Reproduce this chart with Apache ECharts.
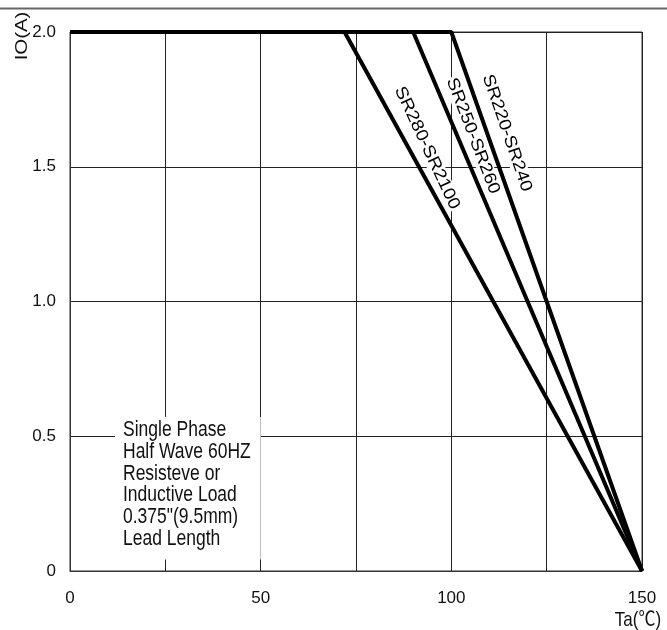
<!DOCTYPE html>
<html><head><meta charset="utf-8">
<script src="https://cdn.jsdelivr.net/npm/echarts@6/dist/echarts.min.js"></script>
<style>html,body{margin:0;padding:0;background:#fff}#c{width:667px;height:630px}</style>
</head><body><div id="c"></div>
<script>
// ---- data ----
const seriesNames = ['SR220-SR240', 'SR250-SR260', 'SR280-SR2100'];
const sr220_sr240 = [[0, 2.0], [100, 2.0], [150, 0]];
const sr250_sr260 = [[90, 2.0], [150, 0]];
const sr280_sr2100 = [[72, 2.0], [150, 0]];
const xTickLabels = { 0: '0', 50: '50', 100: '100', 150: '150' };
const yTickLabels = { 0: '0', 0.5: '0.5', 1: '1.0', 1.5: '1.5', 2: '2.0' };
const xAxisTitle = 'Ta(℃)';
const yAxisTitle = 'IO(A)';
const noteLines = ['Single Phase', 'Half Wave 60HZ', 'Resisteve or', 'Inductive Load', '0.375"(9.5mm)', 'Lead Length'];

// ---- chart ----
const FONT = '"Liberation Sans", Arial, "Noto Sans CJK SC", sans-serif';
const chart = echarts.init(document.getElementById('c'), null, { renderer: 'canvas' });
const lineStyle = { color: '#000', width: 4 };
const mk = (name, data) => ({
  name, type: 'line', data, showSymbol: false, symbol: 'none',
  lineStyle, z: 3, animation: false, silent: true
});
const labelStyle = (text, x, y, deg) => ({
  type: 'text', x, y, rotation: -deg * Math.PI / 180, scaleX: 1.12, z: 1,
  style: { text, font: '17px ' + FONT, fill: '#000', align: 'center', verticalAlign: 'middle',
           backgroundColor: '#fff', padding: [0, 1] }
});
chart.setOption({
  animation: false,
  backgroundColor: '#fff',
  grid: { left: 70, right: 25, top: 32, bottom: 59, show: true, borderColor: '#333', borderWidth: 1 },
  xAxis: {
    type: 'value', min: 0, max: 150, interval: 25,
    axisLine: { show: true, lineStyle: { color: '#333', width: 1 } },
    axisTick: { show: false },
    splitLine: { show: true, lineStyle: { color: '#222', width: 1 } },
    axisLabel: {
      margin: 19, color: '#111', fontSize: 17, fontFamily: FONT,
      formatter: v => (xTickLabels[v] !== undefined ? xTickLabels[v] : '')
    }
  },
  yAxis: {
    type: 'value', min: 0, max: 2, interval: 0.5,
    axisLine: { show: true, lineStyle: { color: '#333', width: 1 } },
    axisTick: { show: false },
    splitLine: { show: true, lineStyle: { color: '#222', width: 1 } },
    axisLabel: {
      margin: 14, color: '#111', fontSize: 17, fontFamily: FONT,
      formatter: v => (yTickLabels[v] !== undefined ? yTickLabels[v] : '')
    }
  },
  series: [mk(seriesNames[0], sr220_sr240), mk(seriesNames[1], sr250_sr260), mk(seriesNames[2], sr280_sr2100)],
  graphic: [
    { type: 'line', shape: { x1: 0, y1: 8.5, x2: 667, y2: 8.5 }, style: { stroke: '#666', lineWidth: 2 }, z: 1 },
    { type: 'text', x: 22, y: 36, rotation: Math.PI / 2, scaleX: 1.2, z: 1,
      style: { text: yAxisTitle, font: '17px ' + FONT, fill: '#111', align: 'center', verticalAlign: 'middle' } },
    { type: 'text', x: 638, y: 620, scaleY: 1.2, z: 1,
      style: { text: xAxisTitle, font: '17px ' + FONT, fill: '#111', align: 'center', verticalAlign: 'middle' } },
    { type: 'text', x: 115, y: 417, scaleY: 1.22, z: 1,
      style: { text: noteLines.join('\n'), font: '17.5px ' + FONT, lineHeight: 17.8, fill: '#111',
               align: 'left', verticalAlign: 'top', backgroundColor: '#fff', padding: [2, 10, 8, 8] } },
    labelStyle(seriesNames[0], 507, 133, 71),
    labelStyle(seriesNames[1], 473, 136, 69),
    labelStyle(seriesNames[2], 427, 148, 65)
  ]
});
</script>
</body></html>
